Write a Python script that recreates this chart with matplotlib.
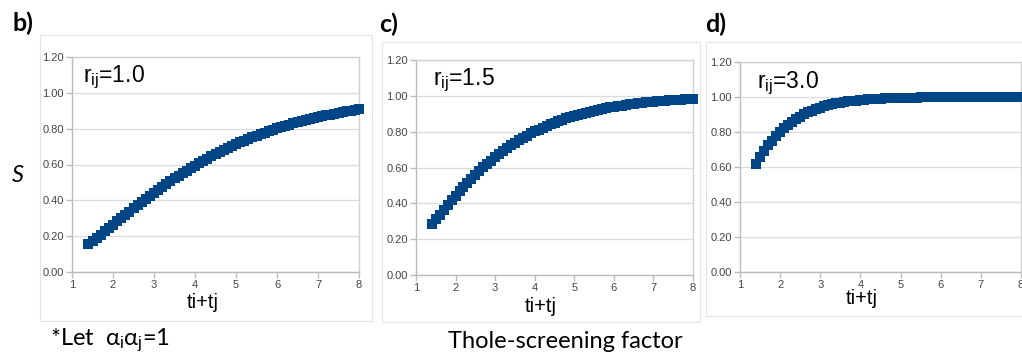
import matplotlib
matplotlib.use("Agg")
import matplotlib.pyplot as plt
from matplotlib.patches import Rectangle

# ti+tj values (same for every panel)
tsum = [round(1.4 + 0.1 * i, 1) for i in range(67)]

# S
s_r10 = [0.156, 0.173, 0.191, 0.209, 0.228, 0.246, 0.264, 0.283, 0.301, 0.319,
         0.337, 0.355, 0.373, 0.391, 0.408, 0.425, 0.442, 0.459, 0.475, 0.491,
         0.507, 0.522, 0.537, 0.552, 0.566, 0.580, 0.594, 0.607, 0.620, 0.633,
         0.645, 0.657, 0.669, 0.680, 0.692, 0.702, 0.713, 0.723, 0.733, 0.742,
         0.751, 0.760, 0.769, 0.777, 0.786, 0.793, 0.801, 0.808, 0.815, 0.822,
         0.829, 0.835, 0.841, 0.847, 0.853, 0.859, 0.864, 0.869, 0.874, 0.879,
         0.884, 0.888, 0.893, 0.897, 0.901, 0.904, 0.908]
s_r15 = [0.283, 0.310, 0.337, 0.364, 0.391, 0.417, 0.442, 0.467, 0.491, 0.515,
         0.537, 0.559, 0.580, 0.601, 0.620, 0.639, 0.657, 0.675, 0.692, 0.708,
         0.723, 0.738, 0.751, 0.765, 0.777, 0.790, 0.801, 0.812, 0.822, 0.832,
         0.841, 0.850, 0.859, 0.867, 0.874, 0.881, 0.888, 0.895, 0.901, 0.906,
         0.912, 0.917, 0.922, 0.927, 0.931, 0.935, 0.939, 0.943, 0.946, 0.949,
         0.952, 0.955, 0.958, 0.960, 0.963, 0.965, 0.967, 0.969, 0.971, 0.973,
         0.975, 0.976, 0.978, 0.979, 0.980, 0.982, 0.983]
s_r30 = [0.620, 0.657, 0.692, 0.723, 0.751, 0.777, 0.801, 0.822, 0.841, 0.859,
         0.874, 0.888, 0.901, 0.912, 0.922, 0.931, 0.939, 0.946, 0.952, 0.958,
         0.963, 0.967, 0.971, 0.975, 0.978, 0.980, 0.983, 0.985, 0.987, 0.988,
         0.990, 0.991, 0.992, 0.993, 0.994, 0.995, 0.995, 0.996, 0.996, 0.997,
         0.997, 0.998, 0.998, 0.998, 0.998, 0.999, 0.999, 0.999, 0.999, 0.999,
         0.999, 0.999, 0.999, 1.000, 1.000, 1.000, 1.000, 1.000, 1.000, 1.000,
         1.000, 1.000, 1.000, 1.000, 1.000, 1.000, 1.000]

panel_labels = ["b)", "c)", "d)"]
r_labels = ["1.0", "1.5", "3.0"]
series = [s_r10, s_r15, s_r30]

W, H = 1022, 359
plt.rcParams['mathtext.fontset'] = 'custom'
plt.rcParams['mathtext.rm'] = 'Liberation Sans'
plt.rcParams['mathtext.it'] = 'Liberation Sans:italic'

fig = plt.figure(figsize=(W / 100, H / 100), dpi=100)


def px(x, y):
    # pixel coords (top-left origin) -> figure fraction
    return x / W, 1 - y / H


# chart area frames (left, top, right, bottom) in pixels
frames = [(40, 35, 372, 321), (382, 42, 700, 322), (706, 42, 1030, 316)]
for l, t, r, b in frames:
    fig.patches.append(Rectangle((l / W, 1 - b / H), (r - l) / W, (b - t) / H,
                                 transform=fig.transFigure, fill=False,
                                 edgecolor='#e3e3e3', linewidth=0.8))

# plot areas (left, top, right, bottom) in pixels
areas = [(72, 57, 359, 272), (416, 60, 693, 275), (740, 62, 1021, 272)]
label_pos = [(12, 23), (379, 24), (705, 24)]
r_pos = [(83, 77), (433, 80), (757, 83)]
xlab_pos = [(203, 303), (541, 307), (862, 298)]

for i in range(3):
    l, t, r, b = areas[i]
    ax = fig.add_axes([l / W, 1 - b / H, (r - l) / W, (b - t) / H])
    ax.plot(tsum, series[i], linestyle='none', marker='s', markersize=6.6,
            color='#004586', markeredgewidth=0, clip_on=False, zorder=3)
    ax.set_xlim(1, 8)
    ax.set_ylim(0, 1.2)
    ax.set_xticks(range(1, 9))
    ax.set_yticks([0, 0.2, 0.4, 0.6, 0.8, 1.0, 1.2])
    ax.set_yticklabels([f"{v:.2f}" for v in [0, 0.2, 0.4, 0.6, 0.8, 1.0, 1.2]])
    ax.grid(axis='y', color='#dcdcdc', linewidth=1)
    for sp in ax.spines.values():
        sp.set_color('#d0d0d0')
        sp.set_linewidth(1)
    ax.spines['left'].set_color('#bcbcbc')
    ax.spines['bottom'].set_color('#bcbcbc')
    ax.tick_params(direction='out', length=4, width=1, color='#bcbcbc',
                   labelsize=8, labelcolor='#444444', pad=2)
    for lab in ax.get_xticklabels() + ax.get_yticklabels():
        lab.set_family('Liberation Sans')

    lx, ly = label_pos[i]
    fig.text(*px(lx, ly), panel_labels[i], fontsize=18, fontweight='bold',
             family='Lato', va='center', ha='left')
    rx, ry = r_pos[i]
    fig.text(*px(rx, ry), r"r$_{\mathrm{ij}}$=" + r_labels[i], fontsize=16.5,
             family='Liberation Sans', va='center', ha='left')
    xx, xy = xlab_pos[i]
    fig.text(*px(xx, xy), "ti+tj", fontsize=14.5, family='Liberation Sans',
             va='center', ha='center')

fig.text(*px(12, 176), "S", fontsize=17, style='italic', family='Lato',
         va='center', ha='left')
fig.text(*px(50, 340), r"*Let  α$_{\mathrm{i}}$α$_{\mathrm{j}}$=1", fontsize=17,
         family='Lato', va='center', ha='left')
fig.text(*px(565, 342), "Thole-screening factor", fontsize=17, family='Lato',
         va='center', ha='center')

fig.savefig("out.png", dpi=100)
